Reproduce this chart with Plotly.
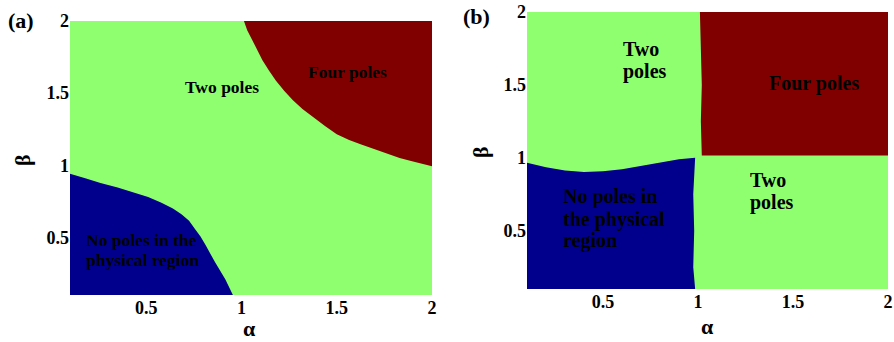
import plotly.graph_objects as go

# ---------------- data ----------------
alpha_range = [0.1, 2.0]
beta_range = [0.1, 2.0]
tick_vals = [0.5, 1, 1.5, 2]
tick_text = ["0.5", "1", "1.5", "2"]

# Panel (a): boundary of "no poles" region (blue)
a_blue_alpha = [0.1, 0.18, 0.26, 0.35, 0.435, 0.51, 0.58, 0.64, 0.685, 0.725, 0.755, 0.785, 0.81, 0.86, 0.915, 0.955]
a_blue_beta = [0.94, 0.91, 0.876, 0.845, 0.81, 0.78, 0.74, 0.70, 0.66, 0.615, 0.56, 0.505, 0.45, 0.33, 0.21, 0.1]
# Panel (a): boundary of "four poles" region (red)
a_red_alpha = [1.013, 1.03, 1.057, 1.085, 1.11, 1.145, 1.18, 1.225, 1.27, 1.32, 1.377, 1.44, 1.50, 1.565, 1.625, 1.70, 1.767, 1.83, 1.89, 1.95, 2.0]
a_red_beta = [2.0, 1.935, 1.867, 1.795, 1.727, 1.655, 1.587, 1.515, 1.45, 1.39, 1.33, 1.27, 1.215, 1.175, 1.145, 1.11, 1.075, 1.05, 1.03, 1.01, 0.993]

# Panel (b): top boundary of "no poles" region (blue), right edge at alpha ~0.985
b_blue_alpha = [0.1, 0.2, 0.3, 0.4, 0.5, 0.6, 0.7, 0.8, 0.9, 0.985]
b_blue_beta = [0.966, 0.935, 0.912, 0.903, 0.908, 0.922, 0.944, 0.968, 0.99, 1.0]
b_blue_right = [1.0, 0.75, 0.5, 0.25, 0.1]
b_blue_right_alpha = [0.985, 0.975, 0.98, 0.975, 0.985]
# Panel (b): four poles region (red): left edge and bottom edge
b_red_left_alpha = [1.01, 1.015, 1.02, 1.015, 1.02]
b_red_left_beta = [2.0, 1.75, 1.5, 1.25, 1.015]
b_red_bottom_beta = 1.015

c_blue = "#00008C"
c_green = "#8FFF70"
c_red = "#800000"

# ---------------- figure ----------------
fig = go.Figure()


def rect(xa, ya, name):
    fig.add_trace(go.Scatter(
        x=[alpha_range[0], alpha_range[1], alpha_range[1], alpha_range[0], alpha_range[0]],
        y=[beta_range[0], beta_range[0], beta_range[1], beta_range[1], beta_range[0]],
        fill="toself", fillcolor=c_green, mode="lines", line=dict(width=0, color=c_green),
        xaxis=xa, yaxis=ya, hoverinfo="skip", showlegend=False, name=name))


def poly(xs, ys, color, xa, ya):
    fig.add_trace(go.Scatter(
        x=xs + [xs[0]], y=ys + [ys[0]], fill="toself", fillcolor=color, mode="lines",
        line=dict(width=0, color=color), xaxis=xa, yaxis=ya, hoverinfo="skip",
        showlegend=False))


# Panel (a)
rect("x", "y", "two poles a")
poly([alpha_range[0]] + a_blue_alpha, [beta_range[0]] + a_blue_beta, c_blue, "x", "y")
poly(a_red_alpha + [alpha_range[1]], a_red_beta + [beta_range[1]], c_red, "x", "y")

# Panel (b)
rect("x2", "y2", "two poles b")
poly([alpha_range[0]] + b_blue_alpha + b_blue_right_alpha,
     [beta_range[0]] + b_blue_beta + b_blue_right, c_blue, "x2", "y2")
poly(b_red_left_alpha + [alpha_range[1], alpha_range[1]],
     b_red_left_beta + [b_red_bottom_beta, beta_range[1]], c_red, "x2", "y2")

serif = "Times New Roman, Liberation Serif, serif"
tickfont = dict(family=serif, size=18, color="black", weight="bold")
ax_common = dict(range=alpha_range, tickvals=tick_vals, ticktext=tick_text, showgrid=False,
                 zeroline=False, showline=False, ticks="", tickfont=tickfont, automargin=False)

W, H = 894, 342


def dom_x(l, r):
    return [l / W, r / W]


def dom_y(t, b):
    return [1 - b / H, 1 - t / H]


fig.update_layout(
    width=W, height=H, margin=dict(l=0, r=0, t=0, b=0),
    paper_bgcolor="white", plot_bgcolor="white",
    xaxis=dict(domain=dom_x(70, 432), anchor="y", **ax_common),
    yaxis=dict(domain=dom_y(21, 295), anchor="x", **ax_common),
    xaxis2=dict(domain=dom_x(527, 888), anchor="y2", **ax_common),
    yaxis2=dict(domain=dom_y(12, 289), anchor="x2", **ax_common),
)


def ann(text, x, y, xref="paper", yref="paper", size=16, xanchor="center", yanchor="middle",
        align="center", textangle=0):
    fig.add_annotation(text=text, x=x, y=y, xref=xref, yref=yref, showarrow=False,
                       font=dict(family=serif, size=size, color="black", weight="bold"),
                       xanchor=xanchor, yanchor=yanchor, align=align, textangle=textangle,
                       borderpad=0)


def px(xp, yp):
    return xp / W, 1 - yp / H


# Panel labels
ann("(a)", *px(21, 20), size=22)
ann("(b)", *px(477, 16), size=22)
# axis titles
ann("α", *px(249, 328), size=22)
ann("β", *px(22, 160), size=22, textangle=-90)
ann("α", *px(707, 326), size=22)
ann("β", *px(480, 152), size=22, textangle=-90)

# region labels (a)
ann("Two poles", 0.898, 1.54, "x", "y", size=17.5)
ann("Four poles", 1.557, 1.645, "x", "y", size=17.5)
ann("No poles in the", 0.18, 0.483, "x", "y", size=17.5, xanchor="left")
ann("physical region", 0.18, 0.343, "x", "y", size=17.5, xanchor="left")
# region labels (b)
ann("Two", 0.598, 1.745, "x2", "y2", size=20, xanchor="left")
ann("poles", 0.598, 1.591, "x2", "y2", size=20, xanchor="left")
ann("Four poles", 1.612, 1.507, "x2", "y2", size=20)
ann("Two", 1.27, 0.849, "x2", "y2", size=20, xanchor="left")
ann("poles", 1.27, 0.694, "x2", "y2", size=20, xanchor="left")
ann("No poles in", 0.283, 0.735, "x2", "y2", size=20, xanchor="left")
ann("the physical", 0.283, 0.58, "x2", "y2", size=20, xanchor="left")
ann("region", 0.283, 0.432, "x2", "y2", size=20, xanchor="left")

fig.write_html("out.html")
